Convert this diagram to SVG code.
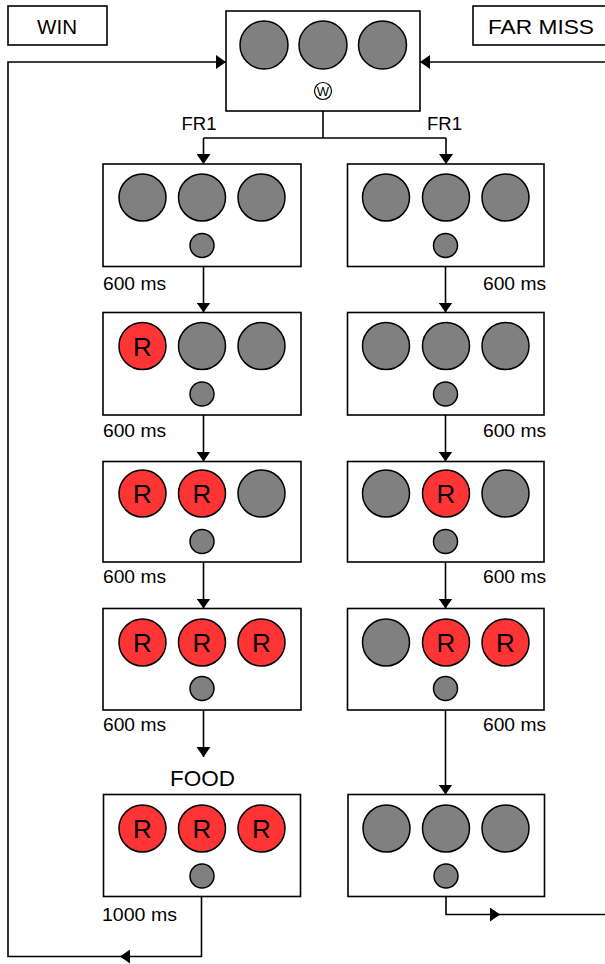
<svg xmlns="http://www.w3.org/2000/svg" width="605" height="964" viewBox="0 0 605 964">
  <style>
    .box { fill: #ffffff; stroke: #000000; stroke-width: 1.6; }
    .off { fill: #808080; stroke: #000000; stroke-width: 1.5; }
    .on { fill: #ff3535; stroke: #000000; stroke-width: 1.5; }
    .lamp { fill: #808080; stroke: #000000; stroke-width: 1.5; }
    .wire { fill: none; stroke: #000000; stroke-width: 1.6; }
    .lbl { font-family: "Liberation Sans", Arial, sans-serif; fill: #000000; }
    .r { font-family: "Liberation Sans", Arial, sans-serif; font-size: 26px; text-anchor: middle; fill: #000000; }
  </style>
  <defs>
    <marker id="head" markerUnits="userSpaceOnUse" markerWidth="10" markerHeight="14" refX="10" refY="7" orient="auto">
      <path d="M0,0 L10,7 L0,14 Z" fill="#000000"/>
    </marker>
  </defs>

  <rect width="605" height="964" fill="#ffffff"/>

  <!-- outcome labels -->
  <g id="label-win">
    <rect class="box" x="8" y="6" width="99" height="39"/>
    <text class="lbl" x="37" y="33.5" font-size="21" textLength="40" lengthAdjust="spacingAndGlyphs">WIN</text>
  </g>
  <g id="label-far-miss">
    <rect class="box" x="473" y="6" width="140" height="39"/>
    <text class="lbl" x="488" y="33.5" font-size="21" textLength="106" lengthAdjust="spacingAndGlyphs">FAR MISS</text>
  </g>

  <!-- start panel -->
  <g id="start">
    <rect class="box" x="226" y="11" width="194" height="100"/>
    <circle class="off" cx="264" cy="45" r="24"/>
    <circle class="off" cx="323" cy="45" r="24"/>
    <circle class="off" cx="382.5" cy="45" r="24"/>
    <circle cx="323" cy="91" r="8.5" fill="#ffffff" stroke="#000000" stroke-width="1.2"/>
    <text class="lbl" x="323" y="95.5" font-size="13" text-anchor="middle">W</text>
  </g>

  <!-- win sequence (left column) -->
  <g id="win-1">
    <rect class="box" x="103" y="164" width="198" height="102.5"/>
    <circle class="off" cx="142.5" cy="197.5" r="23.5"/>
    <circle class="off" cx="202" cy="197.5" r="23.5"/>
    <circle class="off" cx="261.5" cy="197.5" r="23.5"/>
    <circle class="lamp" cx="202" cy="245.5" r="12"/>
  </g>
  <g id="win-2">
    <rect class="box" x="103" y="312.5" width="198" height="102.5"/>
    <circle class="on" cx="142.5" cy="346" r="23.5"/>
    <text class="r" x="142.5" y="355.5">R</text>
    <circle class="off" cx="202" cy="346" r="23.5"/>
    <circle class="off" cx="261.5" cy="346" r="23.5"/>
    <circle class="lamp" cx="202" cy="394" r="12"/>
  </g>
  <g id="win-3">
    <rect class="box" x="103" y="461.5" width="198" height="100.5"/>
    <circle class="on" cx="142.5" cy="493.5" r="23.5"/>
    <text class="r" x="142.5" y="503">R</text>
    <circle class="on" cx="202" cy="493.5" r="23.5"/>
    <text class="r" x="202" y="503">R</text>
    <circle class="off" cx="261.5" cy="493.5" r="23.5"/>
    <circle class="lamp" cx="202" cy="541.5" r="12"/>
  </g>
  <g id="win-4">
    <rect class="box" x="103" y="608.5" width="198" height="101.5"/>
    <circle class="on" cx="142.5" cy="642.5" r="23.5"/>
    <text class="r" x="142.5" y="652">R</text>
    <circle class="on" cx="202" cy="642.5" r="23.5"/>
    <text class="r" x="202" y="652">R</text>
    <circle class="on" cx="261.5" cy="642.5" r="23.5"/>
    <text class="r" x="261.5" y="652">R</text>
    <circle class="lamp" cx="202" cy="688.5" r="12"/>
  </g>
  <g id="win-food">
    <rect class="box" x="103.5" y="794.5" width="197" height="102"/>
    <circle class="on" cx="142.5" cy="828.5" r="23.5"/>
    <text class="r" x="142.5" y="838">R</text>
    <circle class="on" cx="202" cy="828.5" r="23.5"/>
    <text class="r" x="202" y="838">R</text>
    <circle class="on" cx="261.5" cy="828.5" r="23.5"/>
    <text class="r" x="261.5" y="838">R</text>
    <circle class="lamp" cx="202" cy="876" r="12"/>
  </g>

  <!-- far-miss sequence (right column) -->
  <g id="miss-1">
    <rect class="box" x="347.5" y="164" width="196.5" height="102.5"/>
    <circle class="off" cx="386" cy="197.5" r="23.5"/>
    <circle class="off" cx="446" cy="197.5" r="23.5"/>
    <circle class="off" cx="505.5" cy="197.5" r="23.5"/>
    <circle class="lamp" cx="445.5" cy="245.5" r="12"/>
  </g>
  <g id="miss-2">
    <rect class="box" x="347.5" y="312.5" width="196.5" height="102.5"/>
    <circle class="off" cx="386" cy="346" r="23.5"/>
    <circle class="off" cx="446" cy="346" r="23.5"/>
    <circle class="off" cx="505.5" cy="346" r="23.5"/>
    <circle class="lamp" cx="445.5" cy="394" r="12"/>
  </g>
  <g id="miss-3">
    <rect class="box" x="347.5" y="461.5" width="196.5" height="100.5"/>
    <circle class="off" cx="386" cy="493.5" r="23.5"/>
    <circle class="on" cx="446" cy="493.5" r="23.5"/>
    <text class="r" x="446" y="503">R</text>
    <circle class="off" cx="505.5" cy="493.5" r="23.5"/>
    <circle class="lamp" cx="445.5" cy="541.5" r="12"/>
  </g>
  <g id="miss-4">
    <rect class="box" x="347.5" y="608.5" width="196.5" height="101.5"/>
    <circle class="off" cx="386" cy="642.5" r="23.5"/>
    <circle class="on" cx="446" cy="642.5" r="23.5"/>
    <text class="r" x="446" y="652">R</text>
    <circle class="on" cx="505.5" cy="642.5" r="23.5"/>
    <text class="r" x="505.5" y="652">R</text>
    <circle class="lamp" cx="445.5" cy="688.5" r="12"/>
  </g>
  <g id="miss-end">
    <rect class="box" x="348" y="794.5" width="196.5" height="102"/>
    <circle class="off" cx="386.5" cy="828.5" r="23.5"/>
    <circle class="off" cx="446" cy="828.5" r="23.5"/>
    <circle class="off" cx="505.5" cy="828.5" r="23.5"/>
    <circle class="lamp" cx="446" cy="876" r="12"/>
  </g>

  <!-- connectors -->
  <g id="connectors">
    <!-- split from start panel -->
    <path class="wire" d="M323,111 V138 M203.5,138 H446"/>
    <line class="wire" x1="203.5" y1="138" x2="203.5" y2="164" marker-end="url(#head)"/>
    <line class="wire" x1="446" y1="138" x2="446" y2="164" marker-end="url(#head)"/>

    <!-- win column steps -->
    <line class="wire" x1="203.5" y1="266.5" x2="203.5" y2="312.5" marker-end="url(#head)"/>
    <line class="wire" x1="203.5" y1="415" x2="203.5" y2="461.5" marker-end="url(#head)"/>
    <line class="wire" x1="203.5" y1="562" x2="203.5" y2="608.5" marker-end="url(#head)"/>
    <line class="wire" x1="203.5" y1="710" x2="203.5" y2="757" marker-end="url(#head)"/>

    <!-- far-miss column steps -->
    <line class="wire" x1="445.5" y1="266.5" x2="445.5" y2="312.5" marker-end="url(#head)"/>
    <line class="wire" x1="445.5" y1="415" x2="445.5" y2="461.5" marker-end="url(#head)"/>
    <line class="wire" x1="445.5" y1="562" x2="445.5" y2="608.5" marker-end="url(#head)"/>
    <line class="wire" x1="445.5" y1="710" x2="445.5" y2="794.5" marker-end="url(#head)"/>

    <!-- win loop back to start -->
    <path class="wire" d="M201.5,896.5 V956.5 H120" marker-end="url(#head)"/>
    <path class="wire" d="M120,956.5 H8 V62 H226" marker-end="url(#head)"/>

    <!-- far-miss loop back to start -->
    <path class="wire" d="M446,896.5 V914.5 H500" marker-end="url(#head)"/>
    <path class="wire" d="M500,914.5 H606"/>
    <line class="wire" x1="606" y1="62" x2="420" y2="62" marker-end="url(#head)"/>
  </g>

  <!-- timing and schedule labels -->
  <g id="labels">
    <text class="lbl" x="181.5" y="130" font-size="18" textLength="35" lengthAdjust="spacingAndGlyphs">FR1</text>
    <text class="lbl" x="427" y="130" font-size="18" textLength="35" lengthAdjust="spacingAndGlyphs">FR1</text>

    <text class="lbl" x="103" y="290" font-size="18" textLength="63" lengthAdjust="spacingAndGlyphs">600 ms</text>
    <text class="lbl" x="103" y="437" font-size="18" textLength="63" lengthAdjust="spacingAndGlyphs">600 ms</text>
    <text class="lbl" x="103" y="583" font-size="18" textLength="63" lengthAdjust="spacingAndGlyphs">600 ms</text>
    <text class="lbl" x="103" y="731" font-size="18" textLength="63" lengthAdjust="spacingAndGlyphs">600 ms</text>

    <text class="lbl" x="483" y="290" font-size="18" textLength="63" lengthAdjust="spacingAndGlyphs">600 ms</text>
    <text class="lbl" x="483" y="437" font-size="18" textLength="63" lengthAdjust="spacingAndGlyphs">600 ms</text>
    <text class="lbl" x="483" y="583" font-size="18" textLength="63" lengthAdjust="spacingAndGlyphs">600 ms</text>
    <text class="lbl" x="483" y="731" font-size="18" textLength="63" lengthAdjust="spacingAndGlyphs">600 ms</text>

    <text class="lbl" x="170" y="786" font-size="22" textLength="65" lengthAdjust="spacingAndGlyphs">FOOD</text>
    <text class="lbl" x="102" y="921" font-size="18" textLength="75" lengthAdjust="spacingAndGlyphs">1000 ms</text>
  </g>
</svg>
